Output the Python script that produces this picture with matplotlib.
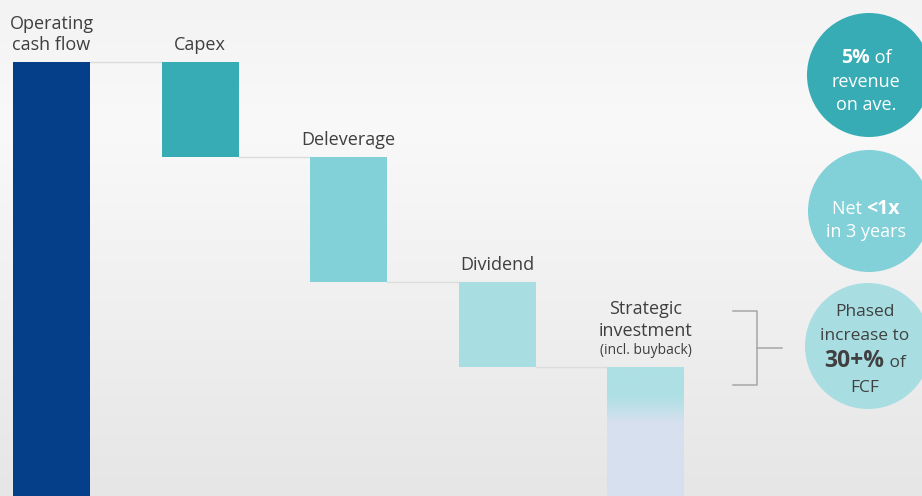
import numpy as np
import matplotlib
matplotlib.use("Agg")
import matplotlib.pyplot as plt
from matplotlib.patches import Circle
from matplotlib.colors import to_rgb

# ---------------- data ----------------
categories = ["Operating\ncash flow", "Capex", "Deleverage", "Dividend", "Strategic\ninvestment"]
sub_label = "(incl. buyback)"
values = [100.0, -21.9, -28.8, -19.6, -29.7]   # waterfall steps (arbitrary units)
bar_colors = ["#063f89", "#37acb5", "#82d0d8", "#a8dee2", "#ade0e4"]
strategic_bottom_color = "#d6e0ee"

circle_texts = [
    [[("5%", "bold", 14), (" of", "normal", 13)], [("revenue", "normal", 13)], [("on ave.", "normal", 13)]],
    [[("Net ", "normal", 13), ("<1x", "bold", 14)], [("in 3 years", "normal", 13)]],
    [[("Phased", "normal", 12.5)], [("increase to", "normal", 12.5)],
     [("30+%", "bold", 16.5), (" of", "normal", 12.5)], [("FCF", "normal", 12.5)]],
]
circle_colors = ["#37acb5", "#82d0d8", "#a8dee2"]
circle_text_colors = ["white", "white", "#404040"]

FONT = "Open Sans"
TXT = "#3f3f3f"

# ---------------- figure ----------------
W, H = 922, 496
fig = plt.figure(figsize=(W / 100, H / 100), dpi=100)

# background gradient
ax_bg = fig.add_axes([0, 0, 1, 1])
ax_bg.set_axis_off()
yy = np.linspace(0, 1, 200)
stops_y = [0.0, 0.25, 1.0]
stops_c = [to_rgb("#f3f3f3"), to_rgb("#f9f9f9"), to_rgb("#e6e6e6")]
grad = np.zeros((200, 2, 3))
for ch in range(3):
    col = np.interp(yy, stops_y, [c[ch] for c in stops_c])
    grad[:, :, ch] = col[:, None]
ax_bg.imshow(grad, aspect="auto", extent=(0, 1, 0, 1), origin="upper")
ax_bg.set_xlim(0, 1); ax_bg.set_ylim(0, 1)

# main data axes
ax = fig.add_axes([0, 0, 1, 1])
ax.patch.set_alpha(0)
ax.set_axis_off()

n = len(values)
x = np.arange(n)
bw = 0.518
bottoms, heights = [], []
running = 0.0
for i, v in enumerate(values):
    if i == 0:
        bottoms.append(0.0); heights.append(v); running = v
    else:
        running_new = running + v
        bottoms.append(running_new); heights.append(-v); running = running_new

bars = ax.bar(x, heights, bottom=bottoms, width=bw, color=bar_colors, linewidth=0, zorder=3)

xlim = (-0.347, 5.858)
ylim = (0, 100 * 496 / 434)
ax.set_xlim(*xlim)
ax.set_ylim(*ylim)

# gradient fill for strategic bar
rect = bars[-1]
x0, y0 = rect.get_x(), rect.get_y()
x1, y1 = x0 + rect.get_width(), y0 + rect.get_height()
gy = np.linspace(1, 0, 300)  # top->bottom fraction of height
frac_stops = [0.0, 0.57, 0.78, 1.0]
c_top = to_rgb(bar_colors[-1]); c_bot = to_rgb(strategic_bottom_color)
gcols = [c_bot, c_bot, c_top, c_top]
g = np.zeros((300, 2, 3))
for ch in range(3):
    g[:, :, ch] = np.interp(gy, frac_stops, [c[ch] for c in gcols])[:, None]
im = ax.imshow(g, aspect="auto", extent=(x0, x1, y0, y1), origin="upper", zorder=4)
im.set_clip_path(rect)
ax.set_xlim(*xlim); ax.set_ylim(*ylim)

# connector lines
for i in range(n - 1):
    level = bottoms[i] + heights[i] if i == 0 else bottoms[i]
    ax.plot([x[i] + bw / 2, x[i + 1] - bw / 2], [level, level], color="#dcdcdc", lw=1.0, zorder=2)

# category labels
for i in range(n):
    top = bottoms[i] + heights[i]
    if i == n - 1:
        ax.annotate(sub_label, (x[i], top), xytext=(0, 9.5), textcoords="offset points",
                    ha="center", va="baseline", fontsize=10, family=FONT, color=TXT)
        ax.annotate(categories[i], (x[i], top), xytext=(0, 22.5), textcoords="offset points",
                    ha="center", va="baseline", fontsize=13, family=FONT, color=TXT,
                    linespacing=1.25)
    else:
        ax.annotate(categories[i], (x[i], top), xytext=(0, 8.6), textcoords="offset points",
                    ha="center", va="baseline", fontsize=13, family=FONT, color=TXT,
                    linespacing=1.25)

# overlay in pixel coordinates for circles and bracket
axp = fig.add_axes([0, 0, 1, 1])
axp.patch.set_alpha(0)
axp.set_axis_off()
axp.set_xlim(0, W); axp.set_ylim(H, 0)

# bracket
bc = "#a6a6a6"
axp.plot([733, 757, 757, 733], [311, 311, 385, 385], color=bc, lw=1.1, zorder=5)
axp.plot([757, 782], [348, 348], color=bc, lw=1.1, zorder=5)

centers = [(869, 75, 62), (869, 211, 61), (868, 346, 63)]
baselines = [[63, 87, 110], [214, 237], [316, 340, 367, 392]]
for (cx, cy, r), col in zip(centers, circle_colors):
    axp.add_patch(Circle((cx, cy), r, facecolor=col, edgecolor="none", zorder=5))

fig.canvas.draw()
renderer = fig.canvas.get_renderer()

def rich_line(xc, yb, parts, color):
    objs = []
    widths = []
    for t, wgt, sz in parts:
        o = axp.text(0, yb, t, fontsize=sz, fontweight=wgt, family=FONT, color=color,
                     ha="left", va="baseline", zorder=6)
        bb = o.get_window_extent(renderer=renderer)
        objs.append(o); widths.append(bb.width)
    total = sum(widths)
    xs = xc - total / 2
    for o, w in zip(objs, widths):
        o.set_x(xs)
        xs += w

for (cx, cy, r), lines, bls, tc in zip(centers, circle_texts, baselines, circle_text_colors):
    for parts, yb in zip(lines, bls):
        rich_line(cx - 3, yb, parts, tc)

fig.savefig("out.png", dpi=100)
